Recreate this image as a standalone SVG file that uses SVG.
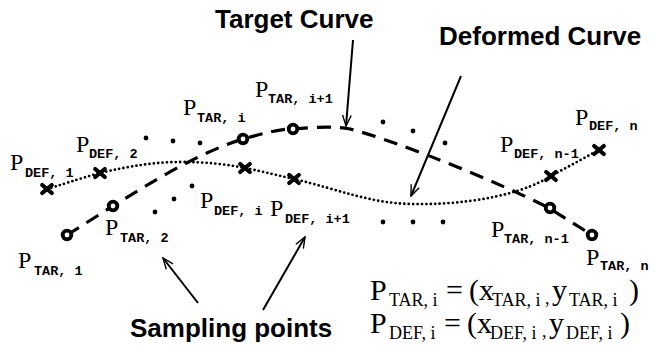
<svg xmlns="http://www.w3.org/2000/svg" width="654" height="352" viewBox="0 0 654 352">
<defs>
<style>
.title{font-family:"Liberation Sans",Arial,sans-serif;font-size:26px;font-weight:bold;fill:#000}
.p{font-family:"Liberation Serif","Times New Roman",serif;font-size:24px;fill:#000}
.s{font-family:"Liberation Mono","Courier New",monospace;font-size:13.5px;font-weight:bold;fill:#000}
.ep{font-family:"Liberation Serif","Times New Roman",serif;font-size:30px;fill:#000}
.es{font-family:"Liberation Serif","Times New Roman",serif;font-size:18px;fill:#000}
.tar{fill:none;stroke:#000;stroke-width:3.2;stroke-dasharray:14 9}
.def{fill:none;stroke:#000;stroke-width:2.8;stroke-dasharray:0 4.4;stroke-linecap:round}
.arr{fill:none;stroke:#000;stroke-width:2;marker-end:url(#ah)}
.ring{fill:#fff;stroke:#000;stroke-width:3.8}
.x{stroke:#000;stroke-width:4.2;stroke-linecap:round}
.dot{fill:#000}
</style>
<marker id="ah" viewBox="0 0 12 10" refX="11" refY="5" markerWidth="6.5" markerHeight="5.5" orient="auto" markerUnits="strokeWidth">
<path d="M1,1 L11,5 L1,9" fill="none" stroke="#000" stroke-width="1.3"/>
</marker>
<g id="xm"><line class="x" x1="-4.8" y1="-4" x2="4.8" y2="4"/><line class="x" x1="-4.8" y1="4" x2="4.8" y2="-4"/></g>
</defs>
<rect width="654" height="352" fill="#fff"/>

<g id="connectors">
<path id="target-curve" class="tar" d="M67,235 L113,206 C150,183 200,152 243,139 C265,133 280,129 293,129 C315,127 335,126 350,129 C400,142 500,183 549,208 L592,235"/>
<path id="deformed-curve" class="def" d="M47,189 C70,182 85,177 100,173 C130,166 155,162 180,162 C205,162 225,164 245,168 C265,172 280,176 294,179 C340,190 370,203 410,204 C450,205 490,200 520,190 C535,185 545,180 551,176 L599,150"/>
<line class="arr" x1="353" y1="40" x2="346" y2="126"/>
<line class="arr" x1="461" y1="76" x2="411" y2="196"/>
<line class="arr" x1="198" y1="303" x2="163" y2="258"/>
<line class="arr" x1="263" y1="310" x2="305" y2="237"/>
</g>

<g id="sampling-dots">
<circle class="dot" cx="146" cy="138" r="2.4"/>
<circle class="dot" cx="173" cy="141" r="2.4"/>
<circle class="dot" cx="200" cy="143" r="2.4"/>
<circle class="dot" cx="383" cy="122" r="2.4"/>
<circle class="dot" cx="413" cy="131" r="2.4"/>
<circle class="dot" cx="445" cy="143" r="2.4"/>
<circle class="dot" cx="192" cy="186" r="2.4"/>
<circle class="dot" cx="174" cy="199" r="2.4"/>
<circle class="dot" cx="155" cy="212" r="2.4"/>
<circle class="dot" cx="383" cy="222" r="2.4"/>
<circle class="dot" cx="413" cy="222" r="2.4"/>
<circle class="dot" cx="443" cy="222" r="2.4"/>
</g>

<g id="tar1"><circle class="ring" cx="67" cy="235" r="4.3"/><text class="p" x="18" y="268">P</text><text class="s" x="34" y="275">TAR, 1</text></g>
<g id="tar2"><circle class="ring" cx="113" cy="206" r="4.3"/><text class="p" x="105" y="235">P</text><text class="s" x="120" y="242">TAR, 2</text></g>
<g id="tari"><circle class="ring" cx="243" cy="139" r="4.3"/><text class="p" x="183" y="115">P</text><text class="s" x="197" y="122">TAR, i</text></g>
<g id="tari1"><circle class="ring" cx="293" cy="129" r="4.3"/><text class="p" x="255" y="97">P</text><text class="s" x="268" y="103">TAR, i+1</text></g>
<g id="tarn1"><circle class="ring" cx="550" cy="208" r="4.3"/><text class="p" x="491" y="237">P</text><text class="s" x="504" y="243">TAR, n-1</text></g>
<g id="tarn"><circle class="ring" cx="592" cy="235" r="4.3"/><text class="p" x="586" y="265">P</text><text class="s" x="600" y="270">TAR, n</text></g>

<g id="def1"><use href="#xm" x="47" y="189"/><text class="p" x="10" y="170">P</text><text class="s" x="25" y="177">DEF, 1</text></g>
<g id="def2"><use href="#xm" x="100" y="173"/><text class="p" x="76" y="152">P</text><text class="s" x="89" y="158">DEF, 2</text></g>
<g id="defi"><use href="#xm" x="245" y="168"/><text class="p" x="200" y="208">P</text><text class="s" x="214" y="215">DEF, i</text></g>
<g id="defi1"><use href="#xm" x="294" y="179"/><text class="p" x="270" y="216">P</text><text class="s" x="285" y="223">DEF, i+1</text></g>
<g id="defn1"><use href="#xm" x="551" y="176"/><text class="p" x="500" y="152">P</text><text class="s" x="514" y="158">DEF, n-1</text></g>
<g id="defn"><use href="#xm" x="599" y="150"/><text class="p" x="575" y="125">P</text><text class="s" x="589" y="130">DEF, n</text></g>

<g id="labels">
<text class="title" x="215" y="28">Target Curve</text>
<text class="title" x="439" y="45">Deformed Curve</text>
<text class="title" x="130" y="337">Sampling points</text>
</g>

<g id="equations">
<text class="ep" x="370" y="300">P</text><text class="es" x="389" y="306">TAR, i</text>
<text class="ep" x="446" y="300">=</text><text class="ep" x="469" y="300">(x</text><text class="es" x="492" y="306">TAR, i</text>
<text class="es" x="545" y="304">,</text><text class="ep" x="552" y="300">y</text><text class="es" x="569" y="306">TAR, i</text><text class="ep" x="629" y="300">)</text>
<text class="ep" x="370" y="333">P</text><text class="es" x="389" y="339">DEF, i</text>
<text class="ep" x="444" y="333">=</text><text class="ep" x="467" y="333">(x</text><text class="es" x="490" y="339">DEF, i</text>
<text class="es" x="542" y="337">,</text><text class="ep" x="549" y="333">y</text><text class="es" x="566" y="339">DEF, i</text><text class="ep" x="620" y="333">)</text>
</g>
</svg>
